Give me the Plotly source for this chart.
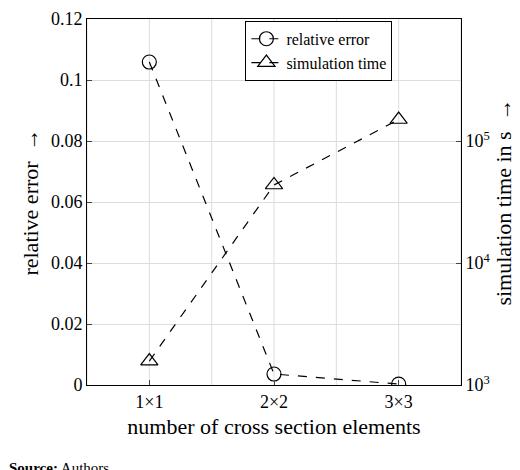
import plotly.graph_objects as go

categories = ["1×1", "2×2", "3×3"]
xpos = [1, 2, 3]
rel_error = [0.1059, 0.0036, 0.0003]
sim_time = [1570, 43600, 150000]
err_ticks = [0, 0.02, 0.04, 0.06, 0.08, 0.1, 0.12]
err_labels = ["0", "0.02", "0.04", "0.06", "0.08", "0.1", "0.12"]

font = dict(family="Liberation Serif, DejaVu Serif, serif", color="black", size=18)
fig = go.Figure()
fig.add_trace(go.Scatter(x=xpos, y=rel_error, name="relative error", mode="lines+markers",
    line=dict(color="black", dash="dash", width=1.2),
    marker=dict(symbol="circle-open", size=14, color="black", line=dict(width=1.2))))
fig.add_trace(go.Scatter(x=xpos, y=sim_time, name="simulation time", mode="lines+markers", yaxis="y2",
    line=dict(color="black", dash="dash", width=1.2),
    marker=dict(symbol="triangle-up-open", size=15, color="black", line=dict(width=1.2))))

fig.update_layout(
    width=520, height=470, margin=dict(l=79, r=67, t=11, b=93, autoexpand=False),
    plot_bgcolor="white", paper_bgcolor="white", font=font,
    xaxis=dict(range=[0.5, 3.5], tickvals=xpos, ticktext=categories, automargin=False,
               showgrid=False, zeroline=False, showline=True, linecolor="black", mirror=True,
               ticks="inside", ticklen=5, title=dict(text="number of cross section elements", standoff=8)),
    yaxis=dict(range=[0, 0.12], tickvals=err_ticks, ticktext=err_labels, showgrid=True, gridcolor="#dddddd",
               automargin=False, zeroline=False, showline=True, linecolor="black", ticks="inside", ticklen=5,
               title=dict(text="relative error  →", standoff=6)),
    yaxis2=dict(type="log", range=[3, 6], overlaying="y", side="right", automargin=False,
                tickvals=[1e3, 1e4, 1e5, 1e6], ticktext=["10<sup>3</sup>", "10<sup>4</sup>", "10<sup>5</sup>", "10<sup>6</sup>"],
                showgrid=False, zeroline=False, showline=True, linecolor="black", ticks="inside", ticklen=5,
                title=dict(text="simulation time in s  →", standoff=6)),
    legend=dict(x=0.62, y=0.995, xanchor="center", yanchor="top", bordercolor="black", borderwidth=1,
                bgcolor="white", font=dict(size=16)),
    annotations=[dict(text="<b>Source:</b> Authors", xref="paper", yref="paper", x=-0.215, y=-0.255,
                      xanchor="left", yanchor="bottom", showarrow=False,
                      font=dict(family="Liberation Serif, serif", size=15))],
)
for xv in [0.5, 1, 1.5, 2, 2.5, 3, 3.5]:
    fig.add_shape(type="line", x0=xv, x1=xv, y0=0, y1=1, yref="paper", line=dict(color="#dddddd", width=1), layer="below")
fig.write_html("out.html")
